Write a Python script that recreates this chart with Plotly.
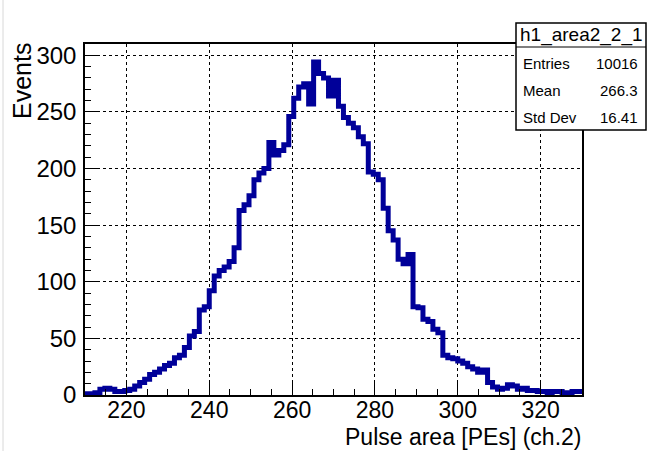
import numpy as np
import plotly.graph_objects as go

# ---- data: histogram h1_area2_2_1 (100 bins, 210 -> 330) ----
x_min = 210.0
x_max = 330.0
n_bins = 100
counts = [
    1, 1, 2, 5, 6, 5, 3, 3, 4, 5,
    8, 11, 14, 18, 20, 23, 26, 28, 33, 35,
    42, 52, 56, 75, 78, 92, 105, 110, 113, 118,
    130, 163, 168, 176, 190, 196, 200, 223, 212, 216,
    221, 246, 262, 272, 275, 257, 294, 284, 280, 264,
    278, 255, 245, 240, 236, 228, 222, 197, 195, 190,
    165, 145, 137, 120, 116, 124, 78, 77, 67, 65,
    58, 55, 35, 33, 32, 30, 28, 25, 23, 20,
    22, 11, 7, 5, 6, 9, 8, 5, 6, 4,
    4, 3, 3, 2, 3, 3, 2, 2, 3, 3,
]
x_ticks = [220, 240, 260, 280, 300, 320]
y_ticks = [0, 50, 100, 150, 200, 250, 300]
stats_name = "h1_area2_2_1"
stats_labels = ["Entries", "Mean", "Std Dev"]
stats_values = ["10016", "266.3", "16.41"]

edges = np.linspace(x_min, x_max, n_bins + 1)
xs = list(edges)
ys = counts + [counts[-1]]

FONT = "Liberation Sans, Arial, Helvetica, sans-serif"

fig = go.Figure()
fig.add_trace(go.Scatter(
    x=xs, y=ys, mode="lines", line=dict(shape="hv", color="#000099", width=5),
    hoverinfo="skip", showlegend=False,
))

W, H = 647, 451
L, R, T, B = 85, 582, 44, 395
pw, ph = R - L, B - T

def px(xp):
    return (xp - L) / pw

def py(yp):
    return (B - yp) / ph

axis_common = dict(
    showline=True, linecolor="black", linewidth=1.5, mirror=True,
    ticks="inside", ticklen=12, tickwidth=1, tickcolor="black",
    showgrid=True, gridcolor="black", gridwidth=1, griddash="dot",
    zeroline=False,
)

fig.update_layout(
    width=W, height=H,
    margin=dict(l=L, r=W - R, t=T, b=H - B),
    paper_bgcolor="white", plot_bgcolor="white",
    xaxis=dict(range=[x_min, x_max], tickvals=x_ticks, ticklabelstandoff=-6,
               tickfont=dict(family=FONT, size=23, color="black"),
               minor=dict(dtick=5, ticks="inside", ticklen=6, tickcolor="black", showgrid=False),
               **axis_common),
    yaxis=dict(range=[0, 310], tickvals=y_ticks, ticklabelstandoff=2,
               tickfont=dict(family=FONT, size=24, color="black"),
               minor=dict(dtick=10, ticks="inside", ticklen=6, tickcolor="black", showgrid=False),
               **axis_common),
)

# axis titles (ROOT style: right / top aligned)
fig.add_annotation(text="Pulse area [PEs] (ch.2)", xref="paper", yref="paper",
                   x=px(584), y=py(437), xanchor="right", yanchor="middle",
                   showarrow=False, font=dict(family=FONT, size=23, color="black"))
fig.add_annotation(text="Events", xref="paper", yref="paper", textangle=-90,
                   x=px(22), y=py(41), xanchor="center", yanchor="top",
                   showarrow=False, font=dict(family=FONT, size=25, color="black"))

# stats box
bx0, bx1, by0, bym, by1 = 516, 646, 23, 47, 130
fig.add_shape(type="rect", xref="paper", yref="paper",
              x0=px(bx0), x1=px(bx1), y0=py(by1), y1=py(by0),
              fillcolor="white", line=dict(color="black", width=1.5), layer="above")
fig.add_shape(type="line", xref="paper", yref="paper",
              x0=px(bx0), x1=px(bx1), y0=py(bym), y1=py(bym),
              line=dict(color="black", width=1.2), layer="above")
fig.add_annotation(text=stats_name, xref="paper", yref="paper",
                   x=px((bx0 + bx1) / 2), y=py(35), xanchor="center", yanchor="middle",
                   showarrow=False, font=dict(family=FONT, size=19, color="black"))
row_y = [63, 90, 117]
for lab, val, ry in zip(stats_labels, stats_values, row_y):
    fig.add_annotation(text=lab, xref="paper", yref="paper", x=px(521), y=py(ry),
                       xanchor="left", yanchor="middle", showarrow=False,
                       font=dict(family=FONT, size=15, color="black"))
    fig.add_annotation(text=val, xref="paper", yref="paper", x=px(640), y=py(ry),
                       xanchor="right", yanchor="middle", showarrow=False,
                       font=dict(family=FONT, size=15, color="black"))

# faint page border on the left
fig.add_shape(type="line", xref="paper", yref="paper",
              x0=px(3), x1=px(3), y0=py(451), y1=py(0),
              line=dict(color="#d8d8d8", width=1), layer="above")

fig.write_html("out.html")
